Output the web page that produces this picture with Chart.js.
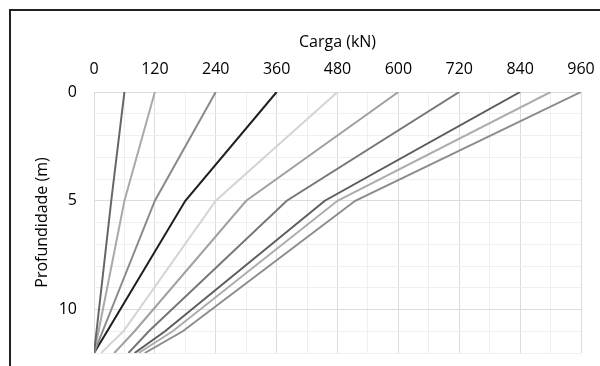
<!DOCTYPE html>
<html lang="pt">
<head>
    <meta charset="UTF-8">
    <title>Carga x Profundidade</title>
    <script src="https://cdn.jsdelivr.net/npm/chart.js@4.4.0/dist/chart.umd.min.js"></script>
    <style>
        html, body {
            margin: 0;
            padding: 0;
            background: #fff;
            overflow: hidden;
        }
        .wrap {
            position: relative;
            width: 600px;
            height: 366px;
        }
        .frame {
            position: absolute;
            left: 9px;
            top: 9px;
            width: 700px;
            height: 500px;
            border: 2px solid #222;
            pointer-events: none;
        }
        canvas {
            position: absolute;
            left: 0;
            top: 0;
        }
    </style>
</head>
<body>
    <div class="wrap">
        <canvas id="chart" width="600" height="366"></canvas>
        <div class="frame"></div>
    </div>

    <script>
        // profundidades (m) dos pontos de cada curva
        const depths = [0, 5, 11, 12];

        // carga (kN) em cada profundidade, uma curva por nível de carga
        const load60  = [60, 34, 5, 0];
        const load120 = [120, 60, 9, 0];
        const load240 = [240, 120, 17, 0];
        const load360 = [360, 180, 26, 0];
        const load480 = [480, 240, 58, 14];
        const load600 = [600, 300, 80, 40];
        const load720 = [720, 380, 108, 68];
        const load840 = [840, 455, 140, 80];
        const load900 = [900, 480, 155, 88];
        const load960 = [960, 515, 175, 100];

        const curves = [load60, load120, load240, load360, load480, load600, load720, load840, load900, load960];
        const colors = ['#666666', '#a9a9a9', '#8a8a8a', '#1e1e1e', '#d4d4d4',
                        '#a0a0a0', '#777777', '#5c5c5c', '#acacac', '#8c8c8c'];

        const xTicks = [0, 120, 240, 360, 480, 600, 720, 840, 960];
        const yTicks = [0, 5, 10];

        const font = { family: '"Open Sans", Lato, sans-serif', size: 16 };

        const datasets = curves.map((vals, i) => ({
            label: 'Q' + i,
            data: depths.map((d, j) => ({ x: vals[j], y: d })),
            borderColor: colors[i],
            borderWidth: 2,
            pointRadius: 0,
            showLine: true,
            fill: false,
            tension: 0
        }));

        new Chart(document.getElementById('chart'), {
            type: 'scatter',
            data: { datasets: datasets },
            options: {
                responsive: false,
                animation: false,
                layout: { padding: { left: 0, top: 0, right: 19, bottom: 13 } },
                plugins: {
                    legend: { display: false },
                    tooltip: { enabled: false }
                },
                scales: {
                    x: {
                        type: 'linear',
                        position: 'top',
                        min: 0,
                        max: 960,
                        afterFit: s => {
                            s.height = 92;
                            s.paddingLeft = 0;
                            s.paddingRight = 0;
                        },
                        ticks: {
                            stepSize: 60,
                            autoSkip: false,
                            maxRotation: 0,
                            padding: 13,
                            color: '#000',
                            font: font,
                            callback: v => xTicks.includes(v) ? v : ''
                        },
                        grid: {
                            drawTicks: false,
                            color: c => xTicks.includes(c.tick.value) ? '#dcdcdc' : '#efefef'
                        },
                        border: { display: false },
                        title: {
                            display: true,
                            text: 'Carga (kN)',
                            color: '#000',
                            font: font,
                            padding: { top: 33, bottom: 0 }
                        }
                    },
                    y: {
                        type: 'linear',
                        reverse: true,
                        min: 0,
                        max: 12,
                        afterFit: s => {
                            s.width = 94;
                            s.paddingTop = 0;
                            s.paddingBottom = 0;
                        },
                        ticks: {
                            stepSize: 1,
                            autoSkip: false,
                            padding: 17,
                            color: '#000',
                            font: font,
                            callback: v => yTicks.includes(v) ? v : ''
                        },
                        grid: {
                            drawTicks: false,
                            color: c => yTicks.includes(c.tick.value) ? '#dcdcdc' : '#efefef'
                        },
                        border: { display: false },
                        title: {
                            display: true,
                            text: 'Profundidade (m)',
                            color: '#000',
                            font: font,
                            padding: { top: 33, bottom: 0 }
                        }
                    }
                }
            }
        });
    </script>
</body>
</html>
